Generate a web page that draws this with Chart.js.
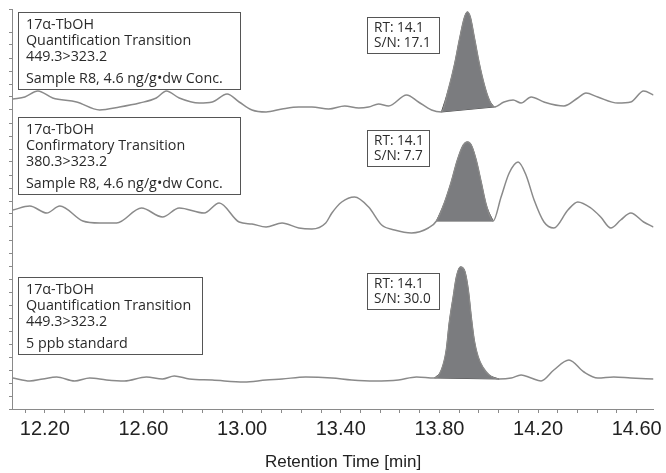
<!DOCTYPE html>
<html>
<head>
<meta charset="utf-8">
<script src="https://cdn.jsdelivr.net/npm/chart.js@4.4.1/dist/chart.umd.min.js"></script>
<style>
  html, body { margin: 0; padding: 0; background: #fff; }
</style>
</head>
<body>
<canvas id="grafico" width="666" height="473"></canvas>
<script>
const tempo1 = [12.071, 12.119, 12.172, 12.232, 12.329, 12.422, 12.503, 12.584, 12.652, 12.693, 12.745, 12.826, 12.879, 12.939, 12.988, 13.040, 13.097, 13.162, 13.230, 13.283, 13.351, 13.416, 13.473, 13.513, 13.553, 13.594, 13.667, 13.715, 13.768, 13.808, 13.836, 13.861, 13.881, 13.901, 13.913, 13.925, 13.941, 13.961, 13.982, 14.002, 14.022, 14.062, 14.099, 14.131, 14.172, 14.224, 14.305, 14.361, 14.394, 14.442, 14.523, 14.576, 14.628, 14.668];
const sinal1 = [310, 312, 318, 311, 307, 299, 302, 306, 311, 318, 311, 306, 307, 315, 307, 299, 297, 300, 302, 302, 300, 303, 301, 302, 305, 303, 314, 307, 299, 297, 319, 344, 369, 391, 397, 392, 372, 346, 324, 309, 302, 307, 309, 306, 312, 307, 303, 311, 316, 312, 306, 307, 318, 314];

const tempo2 = [12.071, 12.139, 12.208, 12.261, 12.354, 12.422, 12.491, 12.592, 12.677, 12.745, 12.846, 12.907, 12.988, 13.040, 13.097, 13.162, 13.230, 13.283, 13.339, 13.364, 13.404, 13.456, 13.513, 13.566, 13.618, 13.687, 13.755, 13.788, 13.820, 13.848, 13.873, 13.897, 13.913, 13.929, 13.949, 13.970, 13.990, 14.018, 14.050, 14.083, 14.119, 14.151, 14.184, 14.224, 14.264, 14.321, 14.361, 14.414, 14.454, 14.495, 14.535, 14.576, 14.628, 14.668];
const sinal2 = [199, 203, 196, 203, 188, 186, 186, 201, 192, 201, 196, 206, 187, 185, 182, 186, 181, 180, 186, 196, 207, 212, 202, 184, 179, 176, 181, 188, 206, 227, 249, 264, 267, 264, 249, 226, 204, 188, 212, 236, 247, 234, 209, 187, 181, 199, 207, 201, 192, 181, 189, 196, 187, 182];

const tempo3 = [12.071, 12.139, 12.192, 12.248, 12.321, 12.382, 12.450, 12.523, 12.612, 12.677, 12.725, 12.786, 12.879, 13.008, 13.097, 13.162, 13.258, 13.364, 13.444, 13.537, 13.634, 13.707, 13.780, 13.808, 13.828, 13.840, 13.856, 13.869, 13.885, 13.901, 13.917, 13.929, 13.941, 13.957, 13.978, 14.002, 14.042, 14.091, 14.131, 14.172, 14.212, 14.264, 14.325, 14.386, 14.442, 14.507, 14.576, 14.668];
const sinal3 = [31, 28, 30, 32, 28, 31, 29, 28, 32, 30, 33, 30, 29, 27, 29, 30, 32, 31, 29, 28, 29, 32, 31, 39, 59, 86, 112, 132, 142, 139, 119, 92, 69, 52, 41, 34, 30, 31, 34, 31, 28, 39, 49, 37, 31, 32, 31, 30];

// limites da integracao de cada pico
const inicioPico = [13.808, 13.788, 13.780];
const fimPico = [14.022, 14.018, 14.042];

const marcasX = ['12.20', '12.60', '13.00', '13.40', '13.80', '14.20', '14.60'];

const textosCaixa = [
  ['17\u03b1-TbOH', 'Quantification Transition', '449.3>323.2', 'Sample R8, 4.6 ng/g\u2022dw Conc.'],
  ['17\u03b1-TbOH', 'Confirmatory Transition', '380.3>323.2', 'Sample R8, 4.6 ng/g\u2022dw Conc.'],
  ['17\u03b1-TbOH', 'Quantification Transition', '449.3>323.2', '5 ppb standard']
];
const textosRT = [
  ['RT: 14.1', 'S/N: 17.1'],
  ['RT: 14.1', 'S/N: 7.7'],
  ['RT: 14.1', 'S/N: 30.0']
];

const tempos = [tempo1, tempo2, tempo3];
const sinais = [sinal1, sinal2, sinal3];

// marcas do eixo x: principais com rotulo, secundarias sem
const valoresX = [];
const rotulosX = [];
const principais = marcasX.map(Number);
valoresX.push(12.12); rotulosX.push('');
principais.forEach((m, i) => {
  valoresX.push(m); rotulosX.push(marcasX[i]);
  if (i < principais.length - 1) {
    for (let k = 1; k < 5; k++) { valoresX.push(m + k * 0.08); rotulosX.push(''); }
  }
});

const corLinha = '#8a8a8a';
const corPico = '#7b7c7f';

const datasets = [];
for (let i = 0; i < 3; i++) {
  datasets.push({
    data: tempos[i].map((t, j) => ({ x: t, y: sinais[i][j] })),
    borderColor: corLinha,
    borderWidth: 1.5,
    pointRadius: 0,
    cubicInterpolationMode: 'monotone',
    fill: false
  });
}
for (let i = 0; i < 3; i++) {
  const pts = tempos[i].map((t, j) => ({ x: t, y: sinais[i][j] }))
    .filter(p => p.x >= inicioPico[i] && p.x <= fimPico[i]);
  datasets.push({
    data: pts,
    borderColor: '#505050',
    borderWidth: 1,
    backgroundColor: corPico,
    pointRadius: 0,
    cubicInterpolationMode: 'monotone',
    fill: { target: 6 + i }
  });
}
for (let i = 0; i < 3; i++) {
  const pts = tempos[i].map((t, j) => ({ x: t, y: sinais[i][j] }))
    .filter(p => p.x >= inicioPico[i] && p.x <= fimPico[i]);
  datasets.push({
    data: [pts[0], pts[pts.length - 1]],
    borderColor: '#505050',
    borderWidth: 1,
    pointRadius: 0,
    fill: false
  });
}

const caixas = {
  id: 'caixas',
  afterDatasetsDraw(chart) {
    const ctx = chart.ctx;
    ctx.save();
    ctx.lineWidth = 1;
    ctx.strokeStyle = '#555';
    ctx.textBaseline = 'middle';
    ctx.font = '14.3px "Open Sans"';

    const topos = [12, 117, 277];
    const direitas = [240, 240, 202];
    const linhas = [12.5, 29, 45, 66.5];
    textosCaixa.forEach((txt, i) => {
      ctx.fillStyle = '#fff';
      ctx.fillRect(18.5, topos[i] + 0.5, direitas[i] - 18, 77);
      ctx.strokeRect(18.5, topos[i] + 0.5, direitas[i] - 18, 77);
      ctx.fillStyle = '#2a2a2a';
      txt.forEach((l, k) => ctx.fillText(l, 26, topos[i] + linhas[k]));
    });

    ctx.font = '13.6px "Open Sans"';
    const rtTopos = [17, 130, 273];
    const rtLarg = [72, 62, 72];
    textosRT.forEach((txt, i) => {
      ctx.fillStyle = '#fff';
      ctx.fillRect(367.5, rtTopos[i] + 0.5, rtLarg[i], 36);
      ctx.strokeRect(367.5, rtTopos[i] + 0.5, rtLarg[i], 36);
      ctx.fillStyle = '#2a2a2a';
      ctx.fillText(txt[0], 374, rtTopos[i] + 11);
      ctx.fillText(txt[1], 374, rtTopos[i] + 26);
    });

    ctx.font = '17px "Liberation Sans"';
    ctx.fillStyle = '#222';
    ctx.textAlign = 'center';
    ctx.fillText('Retention Time [min]', 343, 462);
    ctx.restore();
  }
};

const ctx = document.getElementById('grafico').getContext('2d');
const chart = new Chart(ctx, {
  type: 'line',
  data: { datasets: datasets },
  options: {
    responsive: false,
    animation: false,
    layout: { padding: { top: 9, right: 10, left: 0, bottom: 0 } },
    scales: {
      x: {
        type: 'linear',
        min: 12.067,
        max: 14.668,
        afterBuildTicks: (s) => { s.ticks = valoresX.map(v => ({ value: v })); },
        afterFit: (s) => { s.height = 64; },
        ticks: {
          autoSkip: false,
          maxRotation: 0,
          padding: 4,
          color: '#222',
          font: { family: 'Liberation Sans', size: 20 },
          callback: (v, i) => rotulosX[i]
        },
        grid: { drawOnChartArea: false, tickLength: 4, color: '#8a8a8a' },
        border: { color: '#8a8a8a' }
      },
      y: {
        min: 0,
        max: 400,
        afterFit: (s) => { s.width = 12; },
        ticks: { display: false, stepSize: 13 },
        grid: { drawOnChartArea: false, tickLength: 3, color: '#8a8a8a' },
        border: { color: '#8a8a8a' }
      }
    },
    plugins: {
      legend: { display: false },
      tooltip: { enabled: false }
    }
  },
  plugins: [caixas]
});
</script>
</body>
</html>
